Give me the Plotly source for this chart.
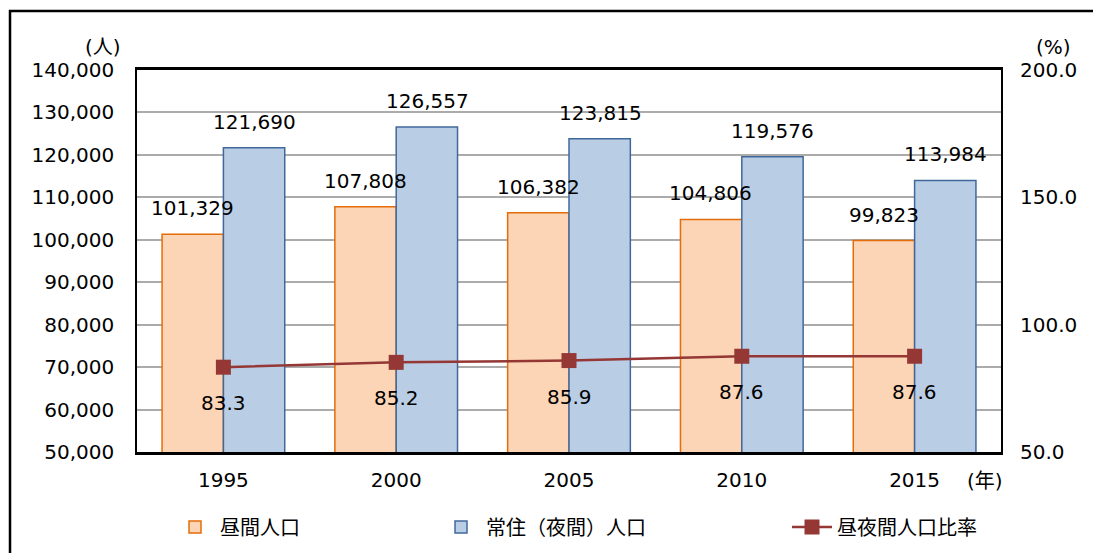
import plotly.graph_objects as go

years = ["1995", "2000", "2005", "2010", "2015"]
daytime_pop = [101329, 107808, 106382, 104806, 99823]
resident_pop = [121690, 126557, 123815, 119576, 113984]
ratio = [83.3, 85.2, 85.9, 87.6, 87.6]

left_ticks = [50000, 60000, 70000, 80000, 90000, 100000, 110000, 120000, 130000, 140000]
right_ticks = [50, 100, 150, 200]

FONT = "DejaVu Sans, Verdana, Noto Sans CJK JP"
FS = 20
W, H = 1093, 553
L, R, T, B = 137, 92, 70, 101
pw, ph = W - L - R, H - T - B

def px_x(x):
    return (x - L) / pw

def px_y(y):
    return (H - B - y) / ph

fig = go.Figure()
fig.add_trace(go.Bar(
    x=years, y=daytime_pop, name="昼間人口",
    marker=dict(color="#FBD5B5", line=dict(color="#E46C0A", width=1.5)),
    legend="legend", showlegend=True,
))
fig.add_trace(go.Bar(
    x=years, y=resident_pop, name="常住（夜間）人口",
    marker=dict(color="#B9CDE5", line=dict(color="#41689B", width=1.5)),
    legend="legend2", showlegend=True,
))
fig.add_trace(go.Scatter(
    x=years, y=ratio, name="昼夜間人口比率", yaxis="y2", mode="lines+markers",
    line=dict(color="#953735", width=2.5),
    marker=dict(symbol="square", size=15, color="#953735"),
    legend="legend3", showlegend=True,
))

annotations = []
for i, yr in enumerate(years):
    annotations.append(dict(x=i, y=daytime_pop[i], xref="x", yref="y", text=f"{daytime_pop[i]:,}",
                            showarrow=False, xshift=-31, yshift=26, font=dict(size=FS, color="#000", family=FONT)))
    annotations.append(dict(x=i, y=resident_pop[i], xref="x", yref="y", text=f"{resident_pop[i]:,}",
                            showarrow=False, xshift=31, yshift=26, font=dict(size=FS, color="#000", family=FONT)))
    annotations.append(dict(x=i, y=ratio[i], xref="x", yref="y2", text=f"{ratio[i]:.1f}",
                            showarrow=False, yshift=-36, font=dict(size=FS, color="#000", family=FONT)))

annotations += [
    dict(x=px_x(103), y=px_y(47), xref="paper", yref="paper", text="(人)", showarrow=False,
         xanchor="center", yanchor="middle", font=dict(size=FS, color="#000", family=FONT)),
    dict(x=px_x(1053), y=px_y(47), xref="paper", yref="paper", text="(%)", showarrow=False,
         xanchor="center", yanchor="middle", font=dict(size=FS, color="#000", family=FONT)),
    dict(x=px_x(985), y=px_y(481), xref="paper", yref="paper", text="(年)", showarrow=False,
         xanchor="center", yanchor="middle", font=dict(size=FS, color="#000", family=FONT)),
]

legend_common = dict(orientation="h", xanchor="left", yanchor="middle", bgcolor="rgba(0,0,0,0)",
                     font=dict(size=FS, color="#000", family=FONT), itemwidth=40)

fig.update_layout(
    width=W, height=H,
    margin=dict(l=L, r=R, t=T, b=B, autoexpand=False),
    paper_bgcolor="white", plot_bgcolor="white",
    barmode="group", bargap=0.29, bargroupgap=0,
    font=dict(family=FONT, size=FS, color="#000"),
    showlegend=True,
    xaxis=dict(type="category", range=[-0.5, 4.5], showline=True, linecolor="black", linewidth=2.5, mirror=True,
               ticks="outside", ticklen=8, tickcolor="rgba(0,0,0,0)",
               tickfont=dict(size=FS, family=FONT), showgrid=False),
    yaxis=dict(range=[50000, 140000], tickvals=left_ticks,
               ticktext=[f"{v:,}" for v in left_ticks],
               showline=True, linecolor="black", linewidth=1.5, mirror=True,
               ticks="outside", ticklen=17, tickcolor="rgba(0,0,0,0)",
               showgrid=True, gridcolor="#ABABAB", gridwidth=1.5,
               tickfont=dict(size=FS, family=FONT), zeroline=False),
    yaxis2=dict(range=[50, 200], tickvals=right_ticks,
                ticktext=[f"{v:.1f}" for v in right_ticks],
                overlaying="y", side="right", showgrid=False,
                ticks="outside", ticklen=14, tickcolor="rgba(0,0,0,0)",
                tickfont=dict(size=FS, family=FONT), zeroline=False),
    legend=dict(x=px_x(170), y=px_y(527), **legend_common),
    legend2=dict(x=px_x(436), y=px_y(527), **legend_common),
    legend3=dict(x=px_x(787), y=px_y(527), **legend_common),
    annotations=annotations,
    shapes=[dict(type="rect", xref="paper", yref="paper",
                 x0=px_x(10), x1=px_x(1110), y0=px_y(570), y1=px_y(11),
                 line=dict(color="black", width=2.5), fillcolor="rgba(0,0,0,0)", layer="below")],
)

fig.write_html("out.html", config={"displayModeBar": False},
               post_script="document.body.style.margin='0';document.body.style.overflow='hidden';")
